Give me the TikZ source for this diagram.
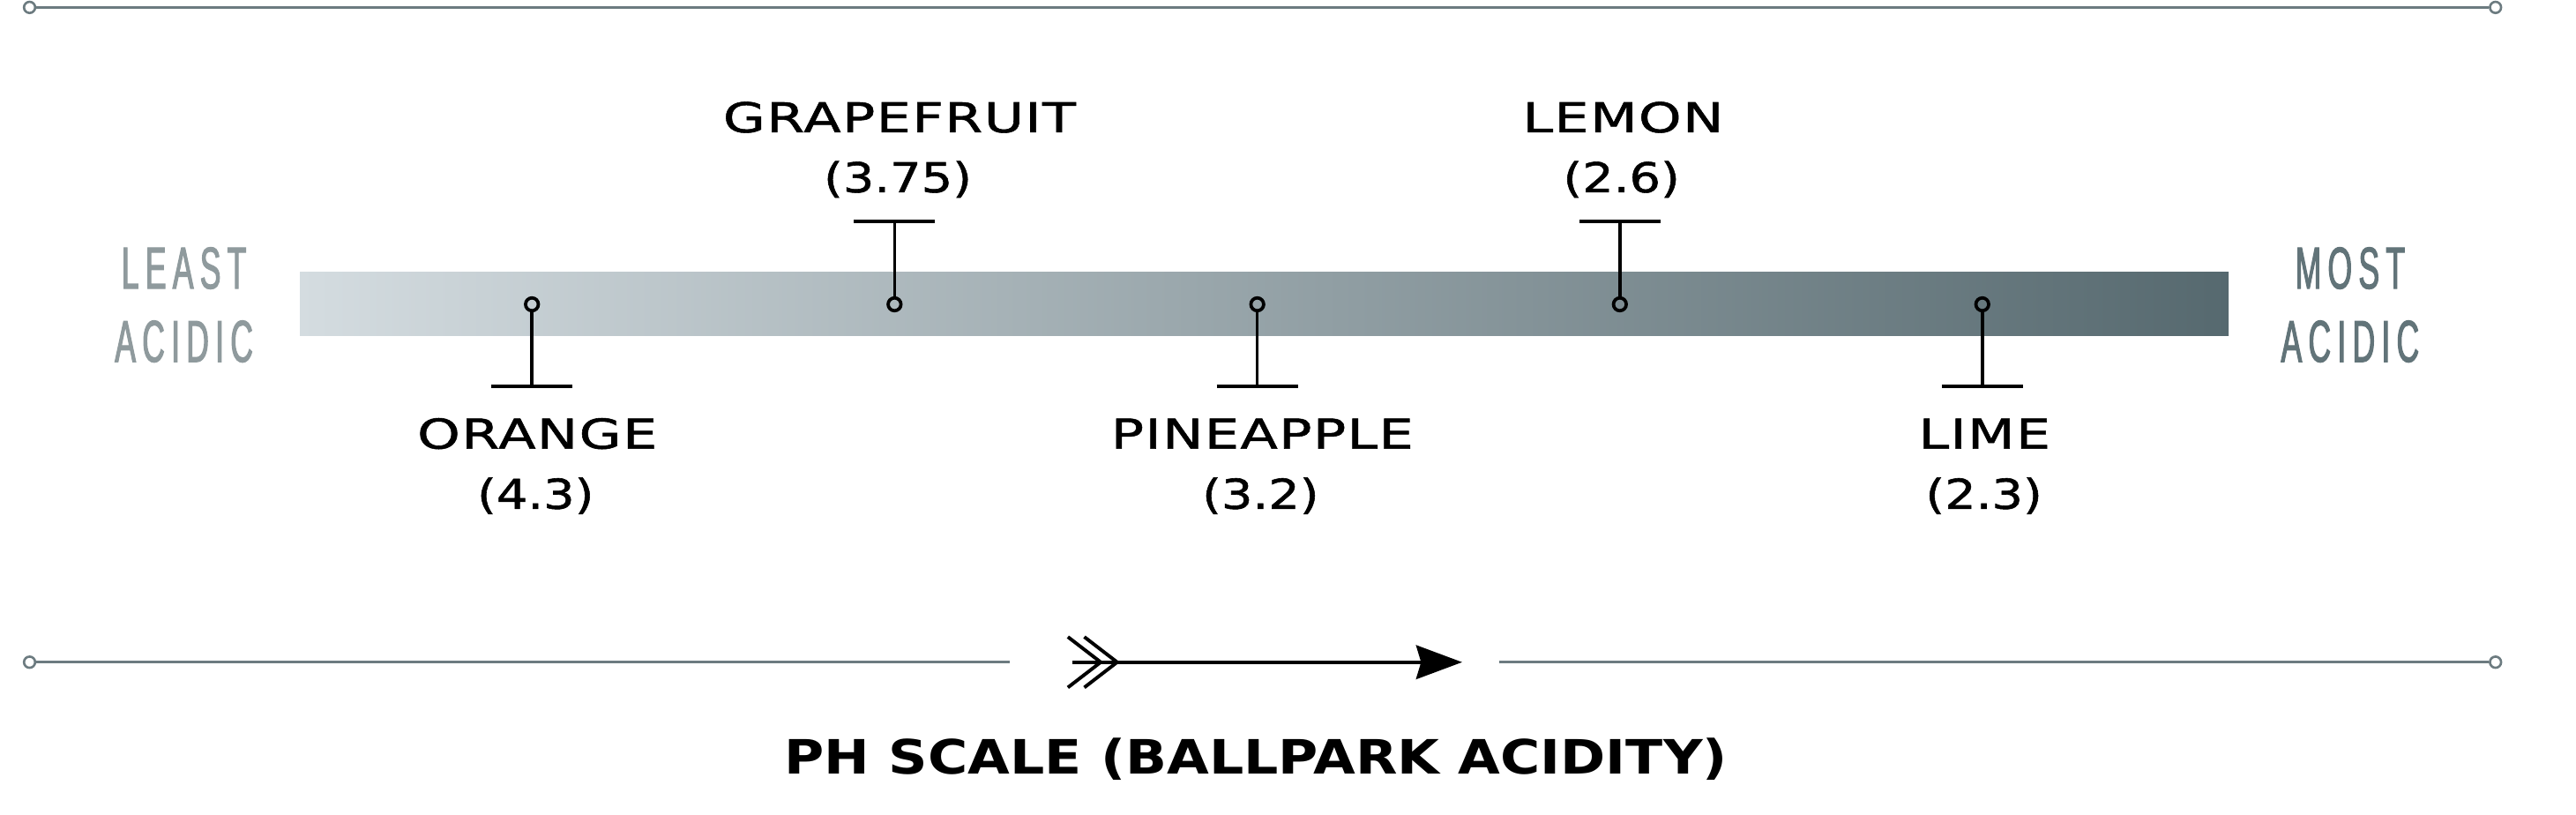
\documentclass[tikz,border=0pt]{standalone}
\usepackage{fontspec}
\usetikzlibrary{arrows.meta}
\newfontfamily\lblfont[FakeStretch=1.33,LetterSpace=3,FakeBold=1.2]{DejaVu Sans}
\newfontfamily\numfont[FakeStretch=1.2,FakeBold=1.2]{DejaVu Sans}
\newfontfamily\titlefont[FakeStretch=1.15]{DejaVu Sans Bold}
\newfontfamily\condfont[FakeStretch=0.53,LetterSpace=10.8,FakeBold=1.6]{Liberation Sans}
\definecolor{rulecol}{HTML}{6C7B80}
\definecolor{barL}{HTML}{D4DCE0}
\definecolor{barR}{HTML}{56696F}
\definecolor{leastcol}{HTML}{8F9A9D}
\definecolor{mostcol}{HTML}{627479}
\begin{document}
\begin{tikzpicture}[x=1pt,y=-1pt,
  rule/.style={draw=rulecol,line width=1.6pt},
  endring/.style={circle,draw=rulecol,fill=white,line width=1.4pt,inner sep=0pt,minimum size=6.8pt},
  dotmark/.style={circle,draw=black,line width=2pt,inner sep=0pt,minimum size=7.8pt},
  stem/.style={draw=black,line width=1.9pt},
  fruit/.style={anchor=base,inner sep=0pt,font=\lblfont\fontsize{25}{30}\selectfont},
  val/.style={anchor=base,inner sep=0pt,font=\numfont\fontsize{25}{30}\selectfont},
  leastlbl/.style={anchor=base,inner sep=0pt,text=leastcol,font=\condfont\fontsize{36}{40}\selectfont},
  mostlbl/.style={anchor=base,inner sep=0pt,text=mostcol,font=\condfont\fontsize{36}{40}\selectfont},
  arrowline/.style={draw=black,line width=2.1pt},
]
\useasboundingbox (0,0) rectangle (1568,496);
\fill[white] (0,0) rectangle (1568,496);

% top rule
\node[endring] (tl) at (18,4.5) {};
\node[endring] (tr) at (1519,4.5) {};
\draw[rule] (tl) -- (tr);

% bottom rule
\node[endring] (bl) at (18,403) {};
\node[endring] (br) at (1519,403) {};
\coordinate (blEnd) at (614.4,403);
\coordinate (brStart) at (912.3,403);
\draw[rule] (bl) -- (blEnd);
\draw[rule] (brStart) -- (br);

% gradient bar
\shade[left color=barL,right color=barR] (182.6,165.5) rectangle (1356.6,204.5);

% end labels
\node[leastlbl] (least1) at (112,175.6) {LEAST};
\node[leastlbl] (least2) at (112,220.2) {ACIDIC};
\node[mostlbl] (most1) at (1430.5,175.6) {MOST};
\node[mostlbl] (most2) at (1430.5,220.2) {ACIDIC};

% Orange (below)
\node[dotmark] (oDot) at (323.8,185.2) {};
\coordinate (oT) at (323.8,235.2);
\draw[stem] (oDot) -- (oT);
\draw[stem] ([xshift=-24.7pt]oT) -- ([xshift=24.7pt]oT);
\node[fruit] (oName) at (327,273) {ORANGE};
\node[val] (oVal) at (326,309.6) {(4.3)};

% Grapefruit (above)
\node[dotmark] (gDot) at (544.5,185.2) {};
\coordinate (gT) at (544.5,134.7);
\draw[stem] (gT) -- (gDot);
\draw[stem] ([xshift=-24.7pt]gT) -- ([xshift=24.7pt]gT);
\node[fruit] (gName) at (547.5,80.5) {GRAPEFRUIT};
\node[val] (gVal) at (546.5,117) {(3.75)};

% Pineapple (below)
\node[dotmark] (pDot) at (765.3,185.2) {};
\coordinate (pT) at (765.3,235.2);
\draw[stem] (pDot) -- (pT);
\draw[stem] ([xshift=-24.7pt]pT) -- ([xshift=24.7pt]pT);
\node[fruit] (pName) at (768.3,273) {PINEAPPLE};
\node[val] (pVal) at (767.3,309.6) {(3.2)};

% Lemon (above)
\node[dotmark] (lDot) at (986,185.2) {};
\coordinate (lT) at (986,134.7);
\draw[stem] (lT) -- (lDot);
\draw[stem] ([xshift=-24.7pt]lT) -- ([xshift=24.7pt]lT);
\node[fruit] (lName) at (988,80.5) {LEMON};
\node[val] (lVal) at (987,117) {(2.6)};

% Lime (below)
\node[dotmark] (iDot) at (1206.6,185.2) {};
\coordinate (iT) at (1206.6,235.2);
\draw[stem] (iDot) -- (iT);
\draw[stem] ([xshift=-24.7pt]iT) -- ([xshift=24.7pt]iT);
\node[fruit] (iName) at (1208,273) {LIME};
\node[val] (iVal) at (1207.6,309.6) {(2.3)};

% arrow
\coordinate (arrS) at (653,403);
\coordinate (arrE) at (890,403);
\coordinate (fl1) at (670,403);
\coordinate (fl2) at (680,403);
\draw[arrowline,-{Stealth[length=28pt,width=20.6pt,inset=3pt]}] (arrS) -- (arrE);
\draw[arrowline] ([shift={(-20,-15.4)}]fl1) -- (fl1) -- ([shift={(-20,15.4)}]fl1);
\draw[arrowline] ([shift={(-20,-15.4)}]fl2) -- (fl2) -- ([shift={(-20,15.4)}]fl2);

% title
\node[anchor=base,inner sep=0pt,font=\titlefont\fontsize{28.8}{34}\selectfont] (title) at (764.5,471) {PH SCALE (BALLPARK ACIDITY)};
\end{tikzpicture}
\end{document}
